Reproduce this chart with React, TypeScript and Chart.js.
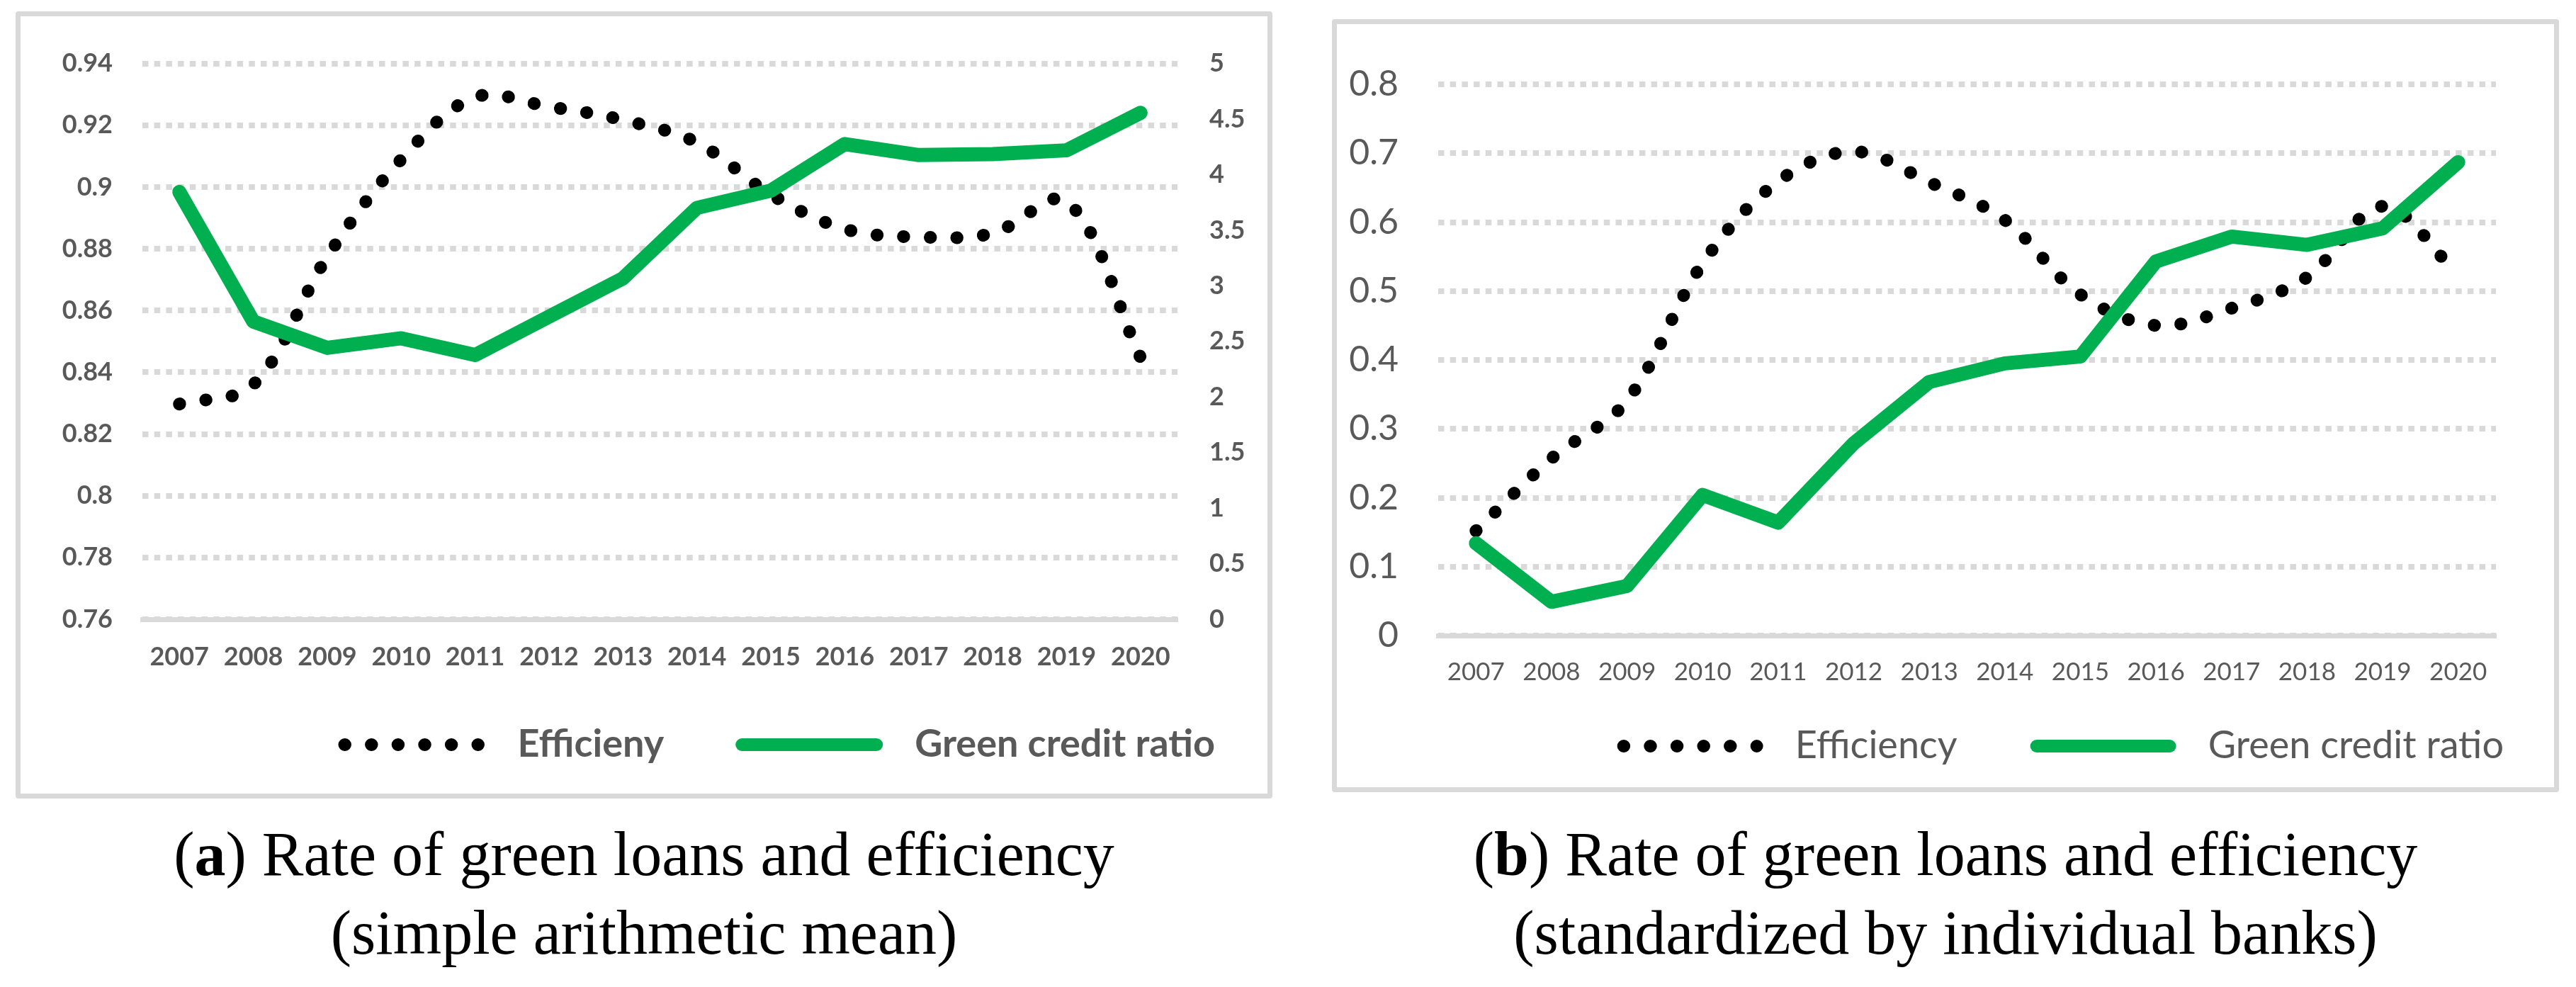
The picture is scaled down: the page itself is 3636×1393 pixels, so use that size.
import React, { useEffect, useRef } from 'react';
import { Chart, registerables } from 'chart.js';
import type { ChartConfiguration } from 'chart.js';

Chart.register(...registerables);

const years = ['2007', '2008', '2009', '2010', '2011', '2012', '2013', '2014', '2015', '2016', '2017', '2018', '2019', '2020'];

// (a) simple arithmetic mean
const efficiencyA = [0.8297, 0.836, 0.8774, 0.9089, 0.9291, 0.926, 0.9217, 0.9144, 0.8976, 0.8864, 0.8838, 0.885, 0.8954, 0.8448];
const greenRatioA = [3.844, 2.679, 2.442, 2.528, 2.377, 2.722, 3.067, 3.701, 3.857, 4.275, 4.176, 4.185, 4.219, 4.556];
const leftTicksA = ['0.76', '0.78', '0.8', '0.82', '0.84', '0.86', '0.88', '0.9', '0.92', '0.94'];
const rightTicksA = ['0', '0.5', '1', '1.5', '2', '2.5', '3', '3.5', '4', '4.5', '5'];

// (b) standardized by individual banks
const efficiencyB = [0.152, 0.257, 0.341, 0.54, 0.659, 0.7025, 0.658, 0.603, 0.495, 0.45, 0.475, 0.52, 0.623, 0.524];
const greenRatioB = [0.134, 0.049, 0.072, 0.204, 0.164, 0.279, 0.368, 0.395, 0.405, 0.543, 0.579, 0.567, 0.591, 0.687];
const ticksB = ['0', '0.1', '0.2', '0.3', '0.4', '0.5', '0.6', '0.7', '0.8'];

const GRID = '#D9D9D9';
const TEXT = '#595959';
const GREEN = '#00B050';
const FONT = 'Lato, "Open Sans", sans-serif';
const DOTS = [0.5, 37.1];

// legend samples: a dotted / solid stroke; the en space widens the gap before the text
const legendFor = (chart: Chart) =>
  chart.data.datasets.map((ds: any, i: number) => ({
    text: '\u2002' + ds.label,
    fillStyle: 'rgba(0,0,0,0)',
    strokeStyle: ds.borderColor,
    lineWidth: 18,
    lineDash: ds.borderDash || [],
    lineCap: 'round',
    pointStyle: 'line',
    fontColor: TEXT,
    hidden: false,
    datasetIndex: i,
  }));

function configA(): ChartConfiguration<'line'> {
  const tickFont = { family: FONT, size: 36, weight: 'bold' as const };
  return {
    type: 'line',
    data: {
      labels: years,
      datasets: [
        {
          label: 'Efficieny',
          data: efficiencyA,
          yAxisID: 'y',
          borderColor: '#000000',
          borderWidth: 18,
          borderDash: DOTS,
          borderCapStyle: 'round',
          tension: 0.35,
          pointRadius: 0,
          order: 1,
        },
        {
          label: 'Green credit ratio',
          data: greenRatioA,
          yAxisID: 'y1',
          borderColor: GREEN,
          borderWidth: 20,
          borderCapStyle: 'round',
          borderJoinStyle: 'round',
          tension: 0,
          pointRadius: 0,
          order: 0,
        },
      ],
    },
    options: {
      responsive: false,
      maintainAspectRatio: false,
      devicePixelRatio: 1,
      animation: false,
      events: [],
      layout: { padding: { top: 37, bottom: 32, left: 0, right: 0 } },
      plugins: {
        tooltip: { enabled: false },
        legend: {
          position: 'bottom',
          align: 'end',
          labels: {
            usePointStyle: true,
            pointStyleWidth: 190,
            padding: 110,
            color: TEXT,
            font: { family: FONT, size: 54, weight: 'bold' },
            generateLabels: legendFor as any,
          },
        },
      },
      scales: {
        x: {
          type: 'category',
          offset: true,
          grid: { display: false, drawTicks: false },
          border: { display: true, color: GRID, width: 7 },
          // mirrored labels are not clipped to the thin axis box; negative padding puts them below the axis
          ticks: { color: TEXT, font: tickFont, padding: -74.6, mirror: true, maxRotation: 0, autoSkip: false },
          afterFit: (s: any) => { s.height = 40; },
        },
        y: {
          position: 'left',
          min: 0.76,
          max: 0.94,
          ticks: { stepSize: 0.02, padding: 42, color: TEXT, font: tickFont, callback: (_v: any, i: number) => leftTicksA[i] },
          grid: { color: GRID, lineWidth: 8, drawTicks: false },
          border: { display: false, dash: [8.5, 8.2] },
          afterFit: (s: any) => { s.width = 172; },
        },
        y1: {
          position: 'right',
          min: 0,
          max: 5,
          ticks: { stepSize: 0.5, padding: 45, color: TEXT, font: tickFont, callback: (_v: any, i: number) => rightTicksA[i] },
          grid: { drawOnChartArea: false, drawTicks: false },
          border: { display: false },
          afterFit: (s: any) => { s.width = 163; },
        },
      },
    },
  };
}

function configB(): ChartConfiguration<'line'> {
  return {
    type: 'line',
    data: {
      labels: years,
      datasets: [
        {
          label: 'Efficiency',
          data: efficiencyB,
          yAxisID: 'y',
          borderColor: '#000000',
          borderWidth: 18,
          borderDash: DOTS,
          borderCapStyle: 'round',
          tension: 0.35,
          pointRadius: 0,
          order: 1,
        },
        {
          label: 'Green credit ratio',
          data: greenRatioB,
          yAxisID: 'y',
          borderColor: GREEN,
          borderWidth: 20,
          borderCapStyle: 'round',
          borderJoinStyle: 'round',
          tension: 0,
          pointRadius: 0,
          order: 0,
        },
      ],
    },
    options: {
      responsive: false,
      maintainAspectRatio: false,
      devicePixelRatio: 1,
      animation: false,
      events: [],
      layout: { padding: { top: 45, bottom: 21, left: 0, right: 0 } },
      plugins: {
        tooltip: { enabled: false },
        legend: {
          position: 'bottom',
          align: 'end',
          labels: {
            usePointStyle: true,
            pointStyleWidth: 188,
            padding: 112,
            color: TEXT,
            font: { family: FONT, size: 54 },
            generateLabels: legendFor as any,
          },
        },
      },
      scales: {
        x: {
          type: 'category',
          offset: true,
          grid: { display: false, drawTicks: false },
          border: { display: true, color: GRID, width: 7 },
          ticks: { color: TEXT, font: { family: FONT, size: 35 }, padding: -73, mirror: true, maxRotation: 0, autoSkip: false },
          afterFit: (s: any) => { s.height = 17; },
        },
        y: {
          position: 'left',
          min: 0,
          max: 0.8,
          ticks: { stepSize: 0.1, padding: 56, color: TEXT, font: { family: FONT, size: 50 }, callback: (_v: any, i: number) => ticksB[i] },
          grid: { color: GRID, lineWidth: 8, drawTicks: false },
          border: { display: false, dash: [8.5, 8.2] },
          afterFit: (s: any) => { s.width = 144; },
        },
        // empty axis that only keeps a right margin
        yR: {
          position: 'right',
          display: true,
          ticks: { display: false },
          grid: { display: false, drawTicks: false },
          border: { display: false },
          afterFit: (s: any) => { s.width = 123; },
        },
      },
    },
  };
}

interface CanvasProps {
  config: () => ChartConfiguration<'line'>;
  left: number;
  top: number;
  width: number;
  height: number;
}

const LineCanvas: React.FC<CanvasProps> = ({ config, left, top, width, height }) => {
  const ref = useRef<HTMLCanvasElement>(null);

  useEffect(() => {
    if (!ref.current) return;
    const chart = new Chart(ref.current, config());
    return () => {
      chart.destroy();
    };
  }, [config]);

  return (
    <canvas
      ref={ref}
      width={width}
      height={height}
      style={{ position: 'absolute', left, top, width, height }}
    />
  );
};

const panel = (left: number, top: number, width: number, height: number): React.CSSProperties => ({
  position: 'absolute',
  left,
  top,
  width,
  height,
  boxSizing: 'border-box',
  border: `7px solid ${GRID}`,
  borderRadius: 4,
  background: '#fff',
});

const caption = (left: number, width: number): React.CSSProperties => ({
  position: 'absolute',
  left,
  top: 1150,
  width,
  textAlign: 'center',
  fontFamily: '"Liberation Serif", "Times New Roman", serif',
  fontSize: 88,
  lineHeight: '111px',
  color: '#000',
});

export default function App() {
  return (
    <div style={{ position: 'absolute', left: 0, top: 0, width: 3636, height: 1393, overflow: 'hidden', background: '#fff' }}>
      <div style={panel(22, 16, 1774, 1111)} />
      <div style={panel(1880, 27, 1732, 1091)} />
      <LineCanvas config={configA} left={29} top={23} width={1796} height={1097} />
      <LineCanvas config={configB} left={1886} top={33} width={1760} height={1078} />
      <div style={caption(22, 1774)}>
        (<b>a</b>) Rate of green loans and efficiency
        <br />
        (simple arithmetic mean)
      </div>
      <div style={caption(1880, 1732)}>
        (<b>b</b>) Rate of green loans and efficiency
        <br />
        (standardized by individual banks)
      </div>
    </div>
  );
}
